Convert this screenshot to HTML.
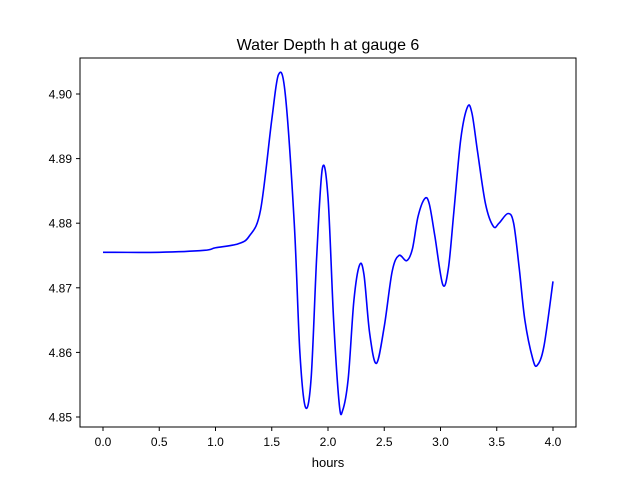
<!DOCTYPE html>
<html><head><meta charset="utf-8"><style>
body{margin:0;background:#fff}
svg text{font-family:"Liberation Sans","DejaVu Sans",sans-serif;fill:#000}
</style></head><body>
<svg id="chart" width="640" height="480">
<rect width="640" height="480" fill="#fff"/>
<text x="328" y="50" font-size="16" text-anchor="middle">Water Depth h at gauge 6</text>
<g id="xt"></g>
<g id="yt"></g>
<path id="line" fill="none" stroke="#0000ff" stroke-width="1.6"/>
<rect x="80" y="58" width="496" height="369" fill="none" stroke="#000" stroke-width="1"/>
<text x="328" y="467" font-size="13" text-anchor="middle">hours</text>
</svg>
<script>
const hours=[0,0.5,0.9,1.0,1.2,1.3,1.4,1.5,1.56,1.62,1.7,1.75,1.8,1.85,1.9,1.95,2.0,2.05,2.1,2.13,2.18,2.23,2.28,2.32,2.37,2.43,2.5,2.57,2.63,2.7,2.75,2.8,2.86,2.9,2.95,3.02,3.07,3.12,3.18,3.24,3.28,3.33,3.4,3.47,3.52,3.6,3.65,3.7,3.75,3.82,3.86,3.92,4.0];
const depth=[4.8755,4.8755,4.8758,4.8762,4.8768,4.878,4.882,4.896,4.903,4.900,4.880,4.860,4.8515,4.856,4.875,4.8885,4.884,4.865,4.852,4.851,4.856,4.868,4.8735,4.872,4.863,4.8583,4.864,4.8725,4.875,4.8742,4.876,4.881,4.8838,4.883,4.878,4.8705,4.873,4.882,4.893,4.898,4.897,4.891,4.883,4.8795,4.880,4.8815,4.880,4.873,4.865,4.859,4.858,4.861,4.871];
const xTicks=[0,0.5,1,1.5,2,2.5,3,3.5,4];
const yTicks=[4.85,4.86,4.87,4.88,4.89,4.90];
const X=v=>103+v*112.5;
const Y=v=>417-(v-4.85)*6460;
const NS="http://www.w3.org/2000/svg";
function mk(t,a,p){const e=document.createElementNS(NS,t);for(const k in a)e.setAttribute(k,a[k]);p.appendChild(e);return e;}
const xt=document.getElementById('xt'),yt=document.getElementById('yt');
xTicks.forEach(v=>{
 const l=mk('line',{x1:X(v),x2:X(v),y1:427,y2:431,stroke:'#000'},xt);
 
 
 const t=mk('text',{x:X(v),y:446,'font-size':12,'text-anchor':'middle'},xt);
 
 
 t.textContent=v.toFixed(1);
});
yTicks.forEach(v=>{
 const l=mk('line',{x1:76,x2:80,y1:Y(v),y2:Y(v),stroke:'#000'},yt);
 
 
 const t=mk('text',{x:72,y:Y(v)+4.5,'font-size':12,'text-anchor':'end'},yt);
 
 
 t.textContent=v.toFixed(2);
});
const P=hours.map((h,i)=>[X(h),Y(depth[i])]);
let d='M'+P[0][0]+','+P[0][1];
for(let i=0;i<P.length-1;i++){
 const p0=P[Math.max(0,i-1)],p1=P[i],p2=P[i+1],p3=P[Math.min(P.length-1,i+2)];
 const c1=[p1[0]+(p2[0]-p0[0])/6,p1[1]+(p2[1]-p0[1])/6];
 const c2=[p2[0]-(p3[0]-p1[0])/6,p2[1]-(p3[1]-p1[1])/6];
 d+=' C'+c1+' '+c2+' '+p2;
}
document.getElementById('line').setAttribute('d',d);
</script>
</body></html>
